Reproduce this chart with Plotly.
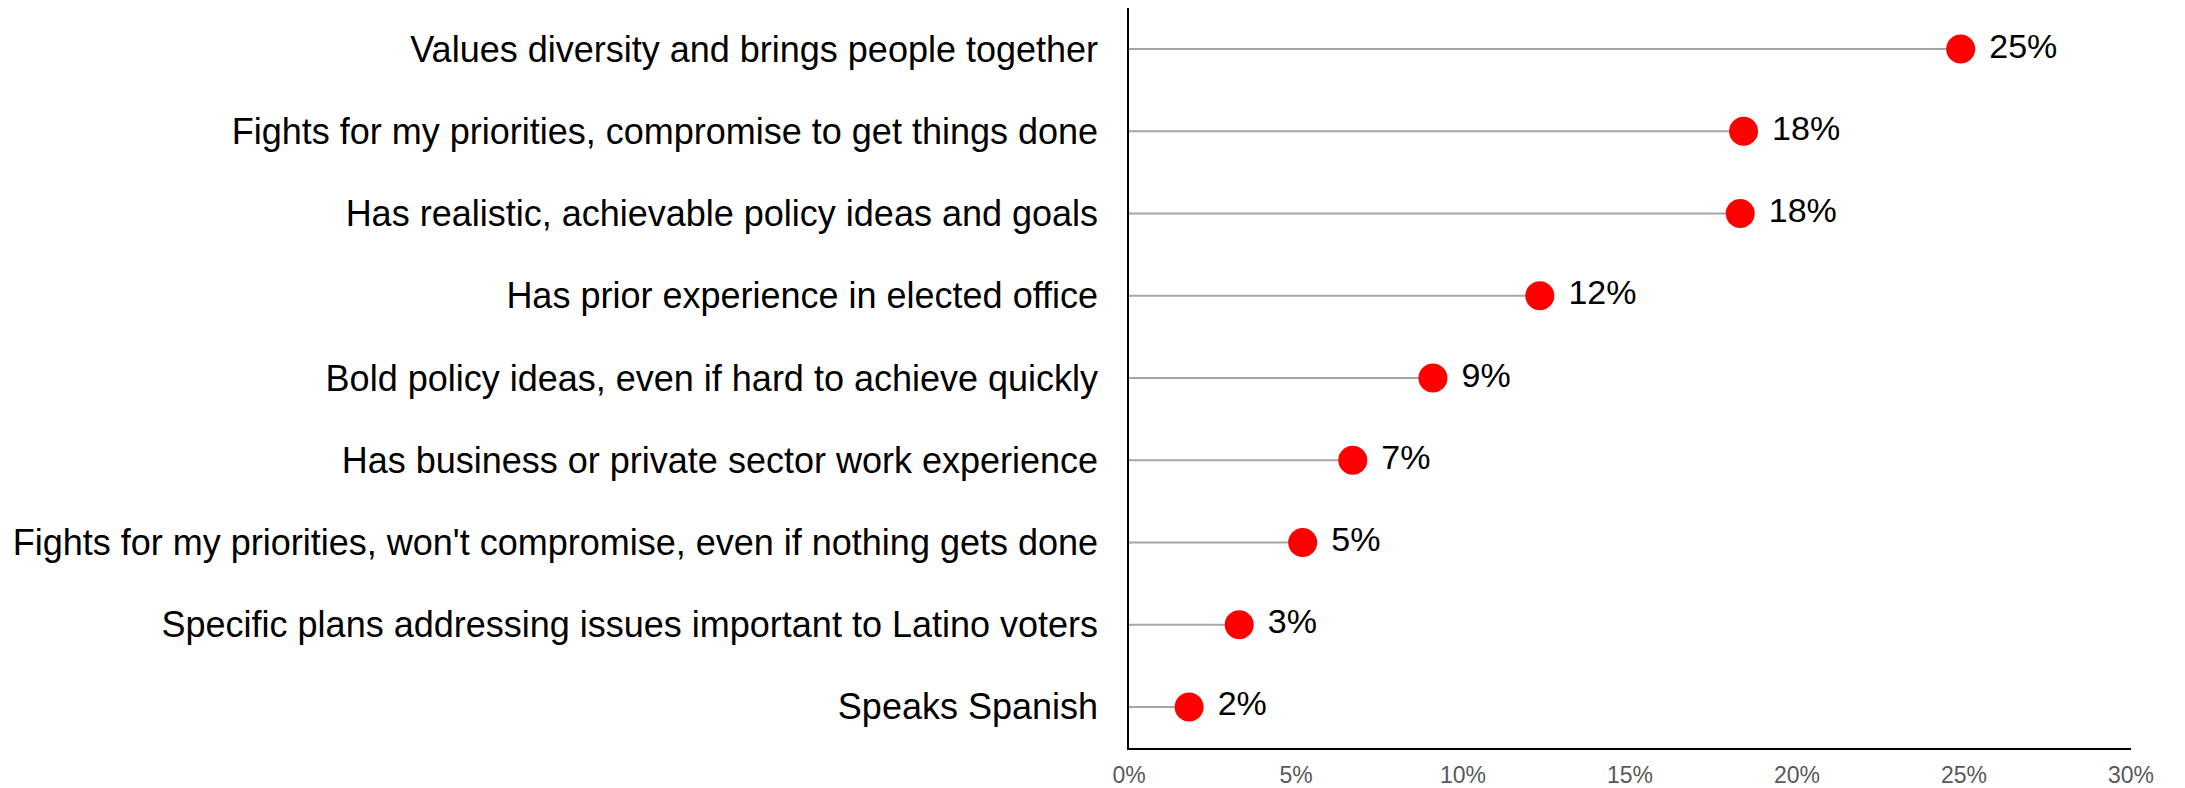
import plotly.graph_objects as go

categories = [
    "Values diversity and brings people together",
    "Fights for my priorities, compromise to get things done",
    "Has realistic, achievable policy ideas and goals",
    "Has prior experience in elected office",
    "Bold policy ideas, even if hard to achieve quickly",
    "Has business or private sector work experience",
    "Fights for my priorities, won't compromise, even if nothing gets done",
    "Specific plans addressing issues important to Latino voters",
    "Speaks Spanish",
]
values = [24.9, 18.4, 18.3, 12.3, 9.1, 6.7, 5.2, 3.3, 1.8]
value_labels = ["25%", "18%", "18%", "12%", "9%", "7%", "5%", "3%", "2%"]
tick_vals = [0, 5, 10, 15, 20, 25, 30]
tick_text = ["0%", "5%", "10%", "15%", "20%", "25%", "30%"]

FONT = "Liberation Sans, Arial, sans-serif"

# stems
stem_x, stem_y = [], []
for c, v in zip(categories, values):
    stem_x += [0, v, None]
    stem_y += [c, c, None]

fig = go.Figure()
fig.add_trace(go.Scatter(
    x=stem_x, y=stem_y, mode="lines",
    line=dict(color="#a6a6a6", width=2),
    hoverinfo="skip", showlegend=False,
))
fig.add_trace(go.Scatter(
    x=values, y=categories, mode="markers+text",
    marker=dict(color="#ff0000", size=29, line=dict(width=0)),
    text=[" " + t for t in value_labels],
    textposition="middle right",
    textfont=dict(family=FONT, size=34, color="#000000"),
    showlegend=False, cliponaxis=False,
))

# page body has an 8px default margin, so the figure is sized to fit the window
fig.update_layout(
    width=2177, height=780,
    margin=dict(l=1121, r=54, t=0, b=40),
    paper_bgcolor="white", plot_bgcolor="white",
    font=dict(family=FONT),
    showlegend=False,
)
fig.update_xaxes(
    range=[0, 30], tickvals=tick_vals, ticktext=tick_text,
    showgrid=False, zeroline=False, automargin=False,
    showline=True, linecolor="#000000", linewidth=1.5,
    ticks="", tickfont=dict(family=FONT, size=23, color="#595959"),
    ticklabelstandoff=6,
)
fig.update_yaxes(
    type="category", categoryorder="array", categoryarray=categories,
    range=[len(categories) - 0.5, -0.5], automargin=False,
    showgrid=False, zeroline=False,
    showline=True, linecolor="#000000", linewidth=1.5,
    ticks="", tickfont=dict(family=FONT, size=36, color="#000000"),
    ticklabelstandoff=22,
)

fig.write_html("out.html")
